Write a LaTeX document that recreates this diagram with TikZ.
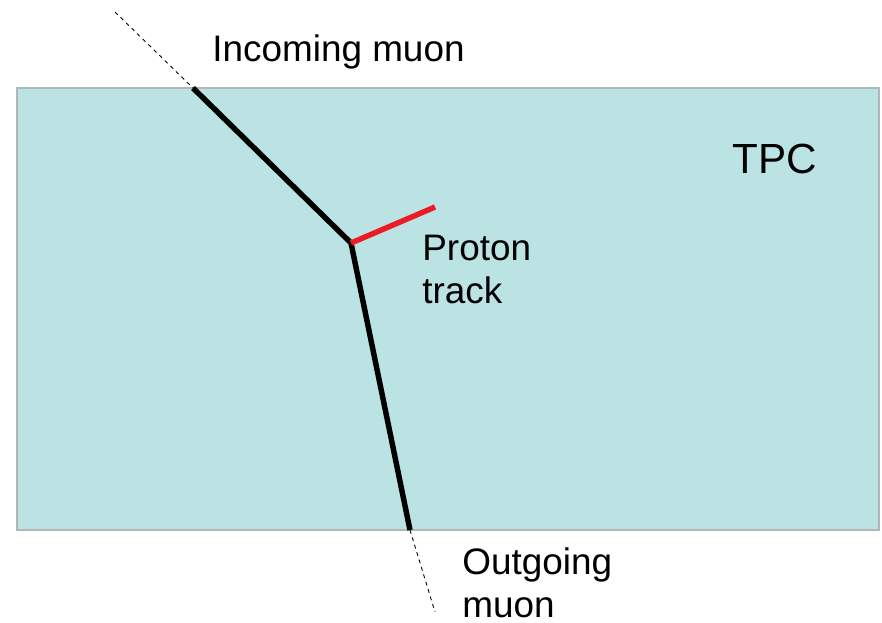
\documentclass[tikz,border=0pt]{standalone}
\usepackage{fontspec}
\setmainfont{Liberation Sans}
\usetikzlibrary{positioning}

\definecolor{tpcfill}{RGB}{187,227,228}
\definecolor{tpcedge}{RGB}{176,184,186}
\definecolor{protonred}{RGB}{237,28,36}

\begin{document}
\begin{tikzpicture}[x=0.02cm, y=-0.02cm,
	track/.style={line width=3.1pt, line join=miter},
	extrap/.style={line width=0.5pt, dash pattern=on 2.2pt off 2.2pt},
	label/.style={anchor=base west, inner sep=0pt, align=left,
		font=\fontsize{21}{24}\selectfont}]
	% параметры
	\def\W{882} % ширина картинки
	\def\H{622} % высота картинки

	\useasboundingbox (0,0) rectangle (\W,\H);

	% камера TPC
	\draw[fill=tpcfill, draw=tpcedge, line width=0.6pt] (17,88) rectangle (879,530);
	\node[label, font=\fontsize{24}{28}\selectfont] (tpc) at (732,173) {TPC};

	% точки трека
	\coordinate (mustart) at (115,12);
	\coordinate (entry) at (193,88);
	\coordinate (vertex) at (351,243);
	\coordinate (exit) at (410,530);
	\coordinate (muend) at (435,612);
	\coordinate (protonend) at (435,207);

	% мюон
	\draw[extrap] (mustart) -- (entry);
	\draw[track] (entry) -- (vertex) -- (exit);
	\draw[extrap] (exit) -- (muend);

	% протон
	\draw[track, protonred] (vertex) -- (protonend);

	% подписи (base -- по последней строке)
	\node[label] (inlabel) at (212,61) {Incoming muon};
	\node[label] (protonlabel) at (422,303) {Proton\\track};
	\node[label] (outlabel) at (462,617) {Outgoing\\muon};
\end{tikzpicture}
\end{document}
